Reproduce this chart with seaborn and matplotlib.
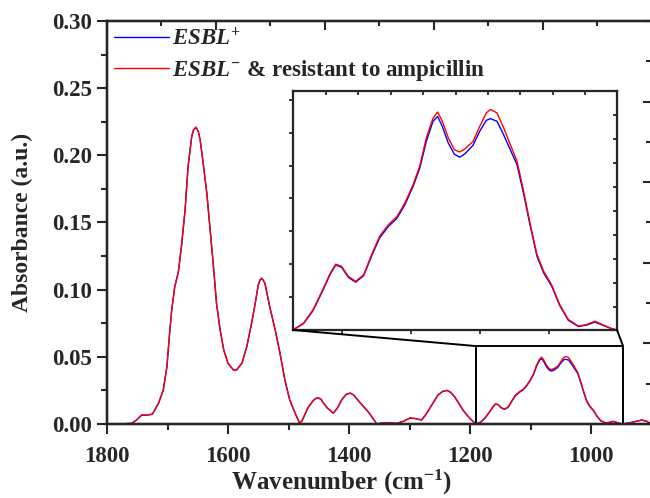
import numpy as np
import pandas as pd
import matplotlib
matplotlib.use("Agg")
import matplotlib.pyplot as plt
import seaborn as sns
from matplotlib.ticker import MultipleLocator, FormatStrFormatter, FixedLocator, NullFormatter
from matplotlib.patches import Rectangle, ConnectionPatch

# -----------------------------
# data
# -----------------------------
wavenumber = [
    1800, 1780, 1759, 1751, 1743, 1734, 1725, 1715, 1707, 1701,
    1697, 1693, 1688, 1682, 1677, 1671, 1666, 1660, 1657, 1653,
    1649, 1646, 1641, 1635, 1630, 1624, 1619, 1613, 1607, 1600,
    1591, 1586, 1577, 1569, 1561, 1555, 1550, 1547, 1544, 1541.5,
    1539, 1531, 1522, 1514, 1506, 1498, 1489, 1482, 1478, 1468,
    1459, 1455, 1451, 1446, 1443, 1436, 1426, 1419, 1412, 1405,
    1398, 1392, 1382, 1368, 1354, 1345, 1337, 1321, 1310, 1299,
    1290, 1280, 1273, 1266, 1253, 1245, 1238, 1232, 1225, 1211,
    1200, 1190, 1182, 1175, 1167, 1162, 1158, 1153.5, 1148.5, 1143,
    1137, 1131, 1125, 1118.5, 1112, 1106, 1100, 1095, 1090, 1085,
    1081.5, 1078, 1073.5, 1069, 1065, 1061, 1055, 1050, 1045, 1042,
    1037, 1032, 1026, 1022, 1017, 1012, 1007, 1002, 996, 990,
    983.5, 976, 970, 963.5, 957, 951, 947, 935, 925, 916,
    908, 900,
]

# ESBL- & resistant to ampicillin (red)
abs_esbl_neg = [
    0.0, 0.0, 0.0005, 0.003, 0.0067, 0.0067, 0.0074, 0.0154, 0.0253, 0.0427,
    0.065, 0.0849, 0.1022, 0.1134, 0.132, 0.159, 0.1916, 0.2139, 0.2189, 0.2209,
    0.2176, 0.2114, 0.194, 0.1717, 0.1469, 0.1171, 0.0898, 0.070, 0.0551, 0.0452,
    0.0402, 0.0402, 0.0452, 0.0575, 0.075, 0.0898, 0.1035, 0.1073, 0.1085, 0.1068,
    0.1047, 0.0873, 0.070, 0.0526, 0.0328, 0.0179, 0.008, 0.001, 0.002, 0.012,
    0.0175, 0.0190, 0.0195, 0.0183, 0.016, 0.012, 0.008, 0.012, 0.018, 0.022,
    0.023, 0.0215, 0.016, 0.009, 0.0, 0.0008, 0.001, 0.0005, 0.002, 0.0045,
    0.004, 0.003, 0.007, 0.012, 0.0215, 0.0243, 0.025, 0.0236, 0.020, 0.010,
    0.004, 0.0, 0.0016, 0.0046, 0.0096, 0.0130, 0.0150, 0.0145, 0.0122, 0.0111,
    0.0126, 0.0172, 0.0214, 0.0240, 0.0259, 0.0290, 0.0331, 0.0373, 0.0438, 0.0483,
    0.0497, 0.0476, 0.0438, 0.0411, 0.0406, 0.0413, 0.0430, 0.0464, 0.0495, 0.0503,
    0.0495, 0.0461, 0.0415, 0.0385, 0.0316, 0.0240, 0.0172, 0.0134, 0.0103, 0.0058,
    0.0024, 0.0009, 0.0012, 0.0020, 0.0011, 0.0003, 0.0, 0.001, 0.002, 0.003,
    0.002, 0.0,
]

# ESBL+ (blue)
abs_esbl_pos = [
    0.0, 0.0, 0.0005, 0.003, 0.0065, 0.0066, 0.0073, 0.0152, 0.0251, 0.0425,
    0.065, 0.0849, 0.1022, 0.1134, 0.132, 0.159, 0.1916, 0.2139, 0.2189, 0.2209,
    0.2176, 0.2114, 0.194, 0.1717, 0.1469, 0.1171, 0.0898, 0.070, 0.0551, 0.0452,
    0.0402, 0.0402, 0.0452, 0.0575, 0.075, 0.0898, 0.1035, 0.1073, 0.1085, 0.1068,
    0.1047, 0.0873, 0.070, 0.0526, 0.0328, 0.0179, 0.008, 0.001, 0.002, 0.012,
    0.0175, 0.0190, 0.0195, 0.0183, 0.016, 0.012, 0.008, 0.012, 0.018, 0.022,
    0.023, 0.0215, 0.016, 0.009, 0.0, 0.0008, 0.001, 0.0005, 0.002, 0.0045,
    0.004, 0.003, 0.007, 0.012, 0.0215, 0.0243, 0.025, 0.0236, 0.020, 0.010,
    0.004, 0.0, 0.0015, 0.0044, 0.0094, 0.0128, 0.0148, 0.0143, 0.0120, 0.0109,
    0.0124, 0.0169, 0.0210, 0.0236, 0.0255, 0.0286, 0.0327, 0.0368, 0.0430, 0.0476,
    0.0487, 0.0464, 0.0426, 0.0401, 0.0394, 0.0402, 0.0421, 0.0453, 0.0478, 0.0482,
    0.0476, 0.0445, 0.0404, 0.0377, 0.0310, 0.0236, 0.0168, 0.0130, 0.0100, 0.0056,
    0.0022, 0.0008, 0.0011, 0.0018, 0.0010, 0.0003, 0.0, 0.001, 0.002, 0.003,
    0.002, 0.0,
]

label_pos = r"$\mathit{ESBL}^{+}$"
label_neg = r"$\mathit{ESBL}^{-}$ & resistant to ampicillin"

zoom_range = (1190, 947)
zoom_top = 0.058

# -----------------------------
# style
# -----------------------------
sns.set_style("ticks")
plt.rcParams["font.family"] = ["Liberation Serif", "DejaVu Serif"]
plt.rcParams["font.weight"] = "bold"
plt.rcParams["mathtext.fontset"] = "custom"
plt.rcParams["mathtext.rm"] = "Liberation Serif:bold"
plt.rcParams["mathtext.it"] = "Liberation Serif:italic:bold"
plt.rcParams["mathtext.bf"] = "Liberation Serif:bold"

df = pd.DataFrame({
    "wavenumber": wavenumber * 2,
    "absorbance": abs_esbl_pos + abs_esbl_neg,
    "group": [label_pos] * len(wavenumber) + [label_neg] * len(wavenumber),
})
palette = {label_pos: "#0000ff", label_neg: "#ff0000"}

fig = plt.figure(figsize=(6.5, 4.98), dpi=100)
ax = fig.add_axes([107 / 650, 74 / 498, 544.5 / 650, 403 / 498])

sns.lineplot(data=df, x="wavenumber", y="absorbance", hue="group",
             hue_order=[label_pos, label_neg], palette=palette,
             estimator=None, linewidth=1.0, ax=ax)

ax.set_xlim(1800, 900)
ax.set_ylim(0, 0.30)
ax.xaxis.set_major_locator(MultipleLocator(200))
ax.xaxis.set_minor_locator(MultipleLocator(100))
ax.yaxis.set_major_locator(MultipleLocator(0.05))
ax.yaxis.set_minor_locator(MultipleLocator(0.025))
ax.yaxis.set_major_formatter(FormatStrFormatter("%.2f"))
ax.tick_params(which="major", direction="out", length=7, width=1.5, labelsize=16.5)
ax.tick_params(which="minor", direction="out", length=4, width=1.5)
ax.tick_params(axis="x", which="major", pad=9)
ax.tick_params(axis="y", which="major", pad=4)
for s in ax.spines.values():
    s.set_linewidth(1.6)

ax.set_xlabel(r"Wavenumber (cm$^{\mathbf{-1}}$)", fontsize=18, fontweight="bold")
ax.set_ylabel("Absorbance (a.u.)", fontsize=17, fontweight="bold")
ax.xaxis.set_label_coords(0.431, -0.108)
ax.yaxis.set_label_coords(-0.135, 0.5)

# mirrored ticks on top and right (inward)
ax_top = ax.twiny()
ax_top.set_xlim(1800, 900)
ax_top.xaxis.set_major_locator(MultipleLocator(180))
ax_top.xaxis.set_minor_locator(MultipleLocator(90))
ax_top.tick_params(which="major", direction="in", length=6.5, width=1.5, labeltop=False)
ax_top.tick_params(which="minor", direction="in", length=3.5, width=1.5)

ax_right = ax.twinx()
ax_right.set_ylim(0, 0.30)
ax_right.yaxis.set_major_locator(MultipleLocator(0.06))
ax_right.yaxis.set_minor_locator(MultipleLocator(0.03))
ax_right.tick_params(which="major", direction="in", length=6.5, width=1.5, labelright=False)
ax_right.tick_params(which="minor", direction="in", length=4, width=1.5)
for a in (ax_top, ax_right):
    for s in a.spines.values():
        s.set_linewidth(1.6)

# legend
handles, labels = ax.get_legend_handles_labels()
ax.legend(handles, labels, loc="upper left", bbox_to_anchor=(0.0, 1.0), frameon=False,
          fontsize=16.5, handlelength=2.4, handletextpad=0.15, labelspacing=0.35,
          borderaxespad=0.3, borderpad=0.0)

# zoom box on main axes
ax.add_patch(Rectangle((zoom_range[1], 0), zoom_range[0] - zoom_range[1], zoom_top,
                       fill=False, edgecolor="black", linewidth=1.4, zorder=5))

# -----------------------------
# inset
# -----------------------------
axins = fig.add_axes([293 / 650, 168 / 498, 324 / 650, 239 / 498])
sns.lineplot(data=df, x="wavenumber", y="absorbance", hue="group",
             hue_order=[label_pos, label_neg], palette=palette,
             estimator=None, linewidth=1.0, legend=False, ax=axins)
axins.set_xlim(*zoom_range)
axins.set_ylim(0, 0.0545)
axins.set_xlabel("")
axins.set_ylabel("")
axins.xaxis.set_major_locator(FixedLocator(np.arange(1153.25, 940, -51.75)))
axins.yaxis.set_major_locator(FixedLocator(np.arange(0.0075, 0.054, 0.0075)))
axins.xaxis.set_major_formatter(NullFormatter())
axins.yaxis.set_major_formatter(NullFormatter())
axins.tick_params(direction="out", length=3, width=1.3)
for s in axins.spines.values():
    s.set_linewidth(1.5)

ins_top = axins.twiny()
ins_top.set_xlim(*zoom_range)
ins_top.xaxis.set_major_locator(FixedLocator(np.arange(1165.25, 948, -24.3)))
ins_top.tick_params(direction="in", length=3, width=1.3, labeltop=False)
ins_right = axins.twinx()
ins_right.set_ylim(0, 0.0545)
ins_right.yaxis.set_major_locator(FixedLocator(np.arange(0.0053, 0.052, 0.00546)))
ins_right.tick_params(direction="in", length=3, width=1.3, labelright=False)
for a in (ins_top, ins_right):
    for s in a.spines.values():
        s.set_linewidth(1.5)

# connector lines from inset bottom corners to the zoom box
for xw in zoom_range:
    con = ConnectionPatch(xyA=(xw, 0), coordsA=axins.transData,
                          xyB=(xw, zoom_top), coordsB=ax.transData,
                          color="black", linewidth=1.4)
    fig.add_artist(con)

fig.savefig("out.png", dpi=100)
